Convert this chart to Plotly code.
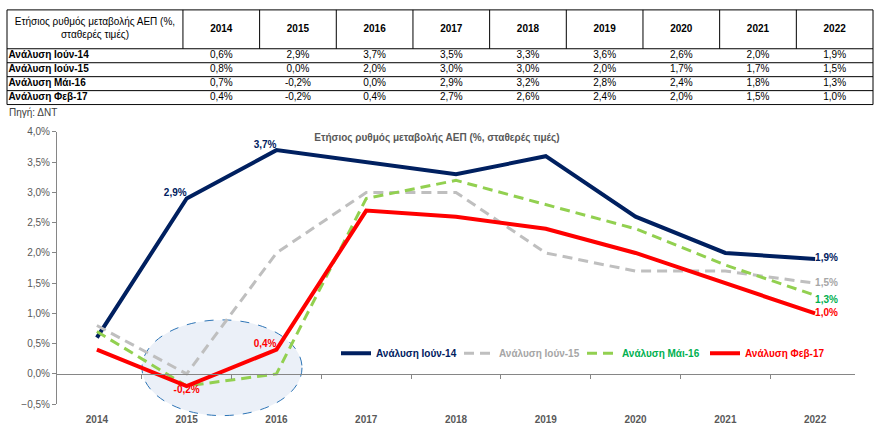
import plotly.graph_objects as go

# Ετήσιος ρυθμός μεταβολής ΑΕΠ (%, σταθερές τιμές) - ανά ανάλυση
years = ['2014', '2015', '2016', '2017', '2018', '2019', '2020', '2021', '2022']
iun14 = [0.6, 2.9, 3.7, 3.5, 3.3, 3.6, 2.6, 2.0, 1.9]
iun15 = [0.8, 0.0, 2.0, 3.0, 3.0, 2.0, 1.7, 1.7, 1.5]
mai16 = [0.7, -0.2, 0.0, 2.9, 3.2, 2.8, 2.4, 1.8, 1.3]
feb17 = [0.4, -0.2, 0.4, 2.7, 2.6, 2.4, 2.0, 1.5, 1.0]
names = ['Ανάλυση Ιούν-14', 'Ανάλυση Ιούν-15', 'Ανάλυση Μάι-16', 'Ανάλυση Φεβ-17']
table_title = 'Ετήσιος ρυθμός μεταβολής ΑΕΠ (%,<br>σταθερές τιμές)'

# ποιες τιμές έχουν ετικέτα στο γράφημα (index -> θέση)
lbl14 = {1: 'top left', 2: 'top left', 8: 'middle right'}
lbl15 = {8: 'middle right'}
lbl16 = {8: 'bottom right'}
lbl17 = {1: 'bottom center', 2: 'top left', 8: 'middle right'}

FONT = 'Liberation Sans'
W, H = 875, 438


def fx(px):
    return px / W


def fy(px):
    # θέση σε pixel (από πάνω) -> κλάσμα paper, με μικρή διόρθωση κλίμακας της φωτογράφισης
    return 1 - ((px - 2.1) / 0.978) / H


def pct(v):
    return f'{v:.1f}'.replace('.', ',') + '%'


def labels(vals, which):
    text = ['<b>' + pct(v) + '</b>' if i in which else '' for i, v in enumerate(vals)]
    pos = [which.get(i, 'top center') for i in range(len(vals))]
    return text, pos


fig = go.Figure()

# ---- πίνακας (ξεχωριστοί άξονες x2/y2) ----
series = [iun14, iun15, mai16, feb17]
col_w = [176] + [76.7] * len(years)
row_h = [39] + [14] * len(series)
col_edges = [sum(col_w[:i]) for i in range(len(col_w) + 1)]
row_edges = [sum(row_h[:i]) for i in range(len(row_h) + 1)]
col_mid = [(col_edges[i] + col_edges[i + 1]) / 2 for i in range(len(col_w))]
row_mid = [(row_edges[i] + row_edges[i + 1]) / 2 for i in range(len(row_h))]

# κεφαλίδα + τιμές (κεντραρισμένα)
cx, cy, ct = [col_mid[0]], [row_mid[0]], [table_title]
for j, yr in enumerate(years):
    cx.append(col_mid[j + 1]); cy.append(row_mid[0]); ct.append('<b>' + yr + '</b>')
    for i, s in enumerate(series):
        cx.append(col_mid[j + 1]); cy.append(row_mid[i + 1]); ct.append(pct(s[j]))
fig.add_trace(go.Scatter(
    x=cx, y=cy, text=ct, mode='text', textposition='middle center',
    textfont=dict(family=FONT, size=10, color='black'),
    xaxis='x2', yaxis='y2', showlegend=False, hoverinfo='skip', cliponaxis=False,
))
# ονόματα αναλύσεων (αριστερή στοίχιση)
fig.add_trace(go.Scatter(
    x=[1.5] * len(names), y=row_mid[1:], text=['<b>' + n + '</b>' for n in names],
    mode='text', textposition='middle right',
    textfont=dict(family=FONT, size=10, color='black'),
    xaxis='x2', yaxis='y2', showlegend=False, hoverinfo='skip', cliponaxis=False,
))

table_lines = []
for ye in row_edges:
    table_lines.append(dict(type='line', xref='x2', yref='y2', x0=0, x1=col_edges[-1], y0=ye, y1=ye,
                            line=dict(color='black', width=1)))
for k, xe in enumerate(col_edges):
    full = k in (0, len(col_edges) - 1)
    table_lines.append(dict(type='line', xref='x2', yref='y2', x0=xe, x1=xe, y0=0,
                            y1=row_edges[-1] if full else row_edges[1],
                            line=dict(color='black', width=1)))

# ---- γράφημα ----
styles = [
    (iun14, lbl14, '#002060', 4, 'solid', '#002060'),
    (iun15, lbl15, '#BFBFBF', 3, '10px,6px', '#A6A6A6'),
    (mai16, lbl16, '#92D050', 3, '10px,6px', '#00B050'),
    (feb17, lbl17, '#FF0000', 4, 'solid', '#FF0000'),
]
for (vals, which, col, w, dash, tcol), name in zip(styles, names):
    text, pos = labels(vals, which)
    fig.add_trace(go.Scatter(
        x=years, y=vals, mode='lines+text', text=text, textposition=pos,
        textfont=dict(family=FONT, size=10, color=tcol),
        line=dict(color=col, width=w, dash=dash),
        name=f'<b><span style="color:{tcol}">{name}</span></b>',
        hoverinfo='skip', cliponaxis=False,
    ))

ydom = [fy(401.5), fy(128.5)]
zero_pos = ydom[0] + (0.5 / 4.5) * (ydom[1] - ydom[0])

fig.update_layout(
    width=W, height=H,
    margin=dict(l=0, r=0, t=0, b=0),
    paper_bgcolor='white', plot_bgcolor='rgba(0,0,0,0)',
    separators=',.',
    font=dict(family=FONT, size=10, color='#595959'),
    title=dict(text='<b>Ετήσιος ρυθμός μεταβολής ΑΕΠ (%, σταθερές τιμές)</b>',
               x=fx(437), xanchor='center', y=fy(137), yanchor='middle',
               font=dict(family=FONT, size=10, color='#595959')),
    showlegend=True,
    legend=dict(orientation='h', x=fx(336), xanchor='left', y=fy(350.5), yanchor='middle',
                entrywidth=78, entrywidthmode='pixels', font=dict(family=FONT, size=10),
                bgcolor='rgba(0,0,0,0)'),
    xaxis=dict(domain=[fx(57), fx(855)], type='category', anchor='free', position=zero_pos,
               showline=True, linecolor='#868686', linewidth=1, showgrid=False,
               ticks='outside', tickson='boundaries', ticklen=4, tickcolor='#868686',
               ticklabelstandoff=36, tickfont=dict(family=FONT, size=10, color='#595959'),
               tickprefix='<b>', ticksuffix='</b>'),
    yaxis=dict(domain=ydom, range=[-0.5, 4.0], dtick=0.5, tickformat='.1f', ticksuffix='%',
               showline=True, linecolor='#868686', linewidth=1, showgrid=False, zeroline=False,
               ticks='outside', ticklen=4, tickcolor='#868686',
               tickfont=dict(family=FONT, size=10, color='#595959')),
    xaxis2=dict(domain=[fx(6), fx(874)], range=[-1, col_edges[-1] + 1], anchor='y2',
                visible=False, fixedrange=True),
    yaxis2=dict(domain=[fy(102), fy(5)], range=[row_edges[-1] + 1, -1], anchor='x2',
                visible=False, fixedrange=True),
    shapes=[dict(type='circle', xref='paper', yref='paper', layer='below',
                 x0=fx(142), x1=fx(302), y0=fy(413), y1=fy(317),
                 fillcolor='#EBF0F8', line=dict(color='#2E75B6', width=1, dash='dash'))] + table_lines,
    annotations=[dict(text='Πηγή: ΔΝΤ', xref='paper', yref='paper', x=fx(7), y=fy(108.5),
                      xanchor='left', yanchor='middle', showarrow=False,
                      font=dict(family=FONT, size=10, color='#404040'))],
)

page_fix = (
    "var h=document.documentElement, b=document.body;"
    "h.style.margin='0'; b.style.margin='0'; h.style.overflow='hidden'; b.style.overflow='hidden';"
    "h.style.height='438px'; b.style.height='438px'; b.style.lineHeight='0'; b.style.fontSize='0';"
)
fig.write_html('out.html', config={'displayModeBar': False}, post_script=page_fix)
